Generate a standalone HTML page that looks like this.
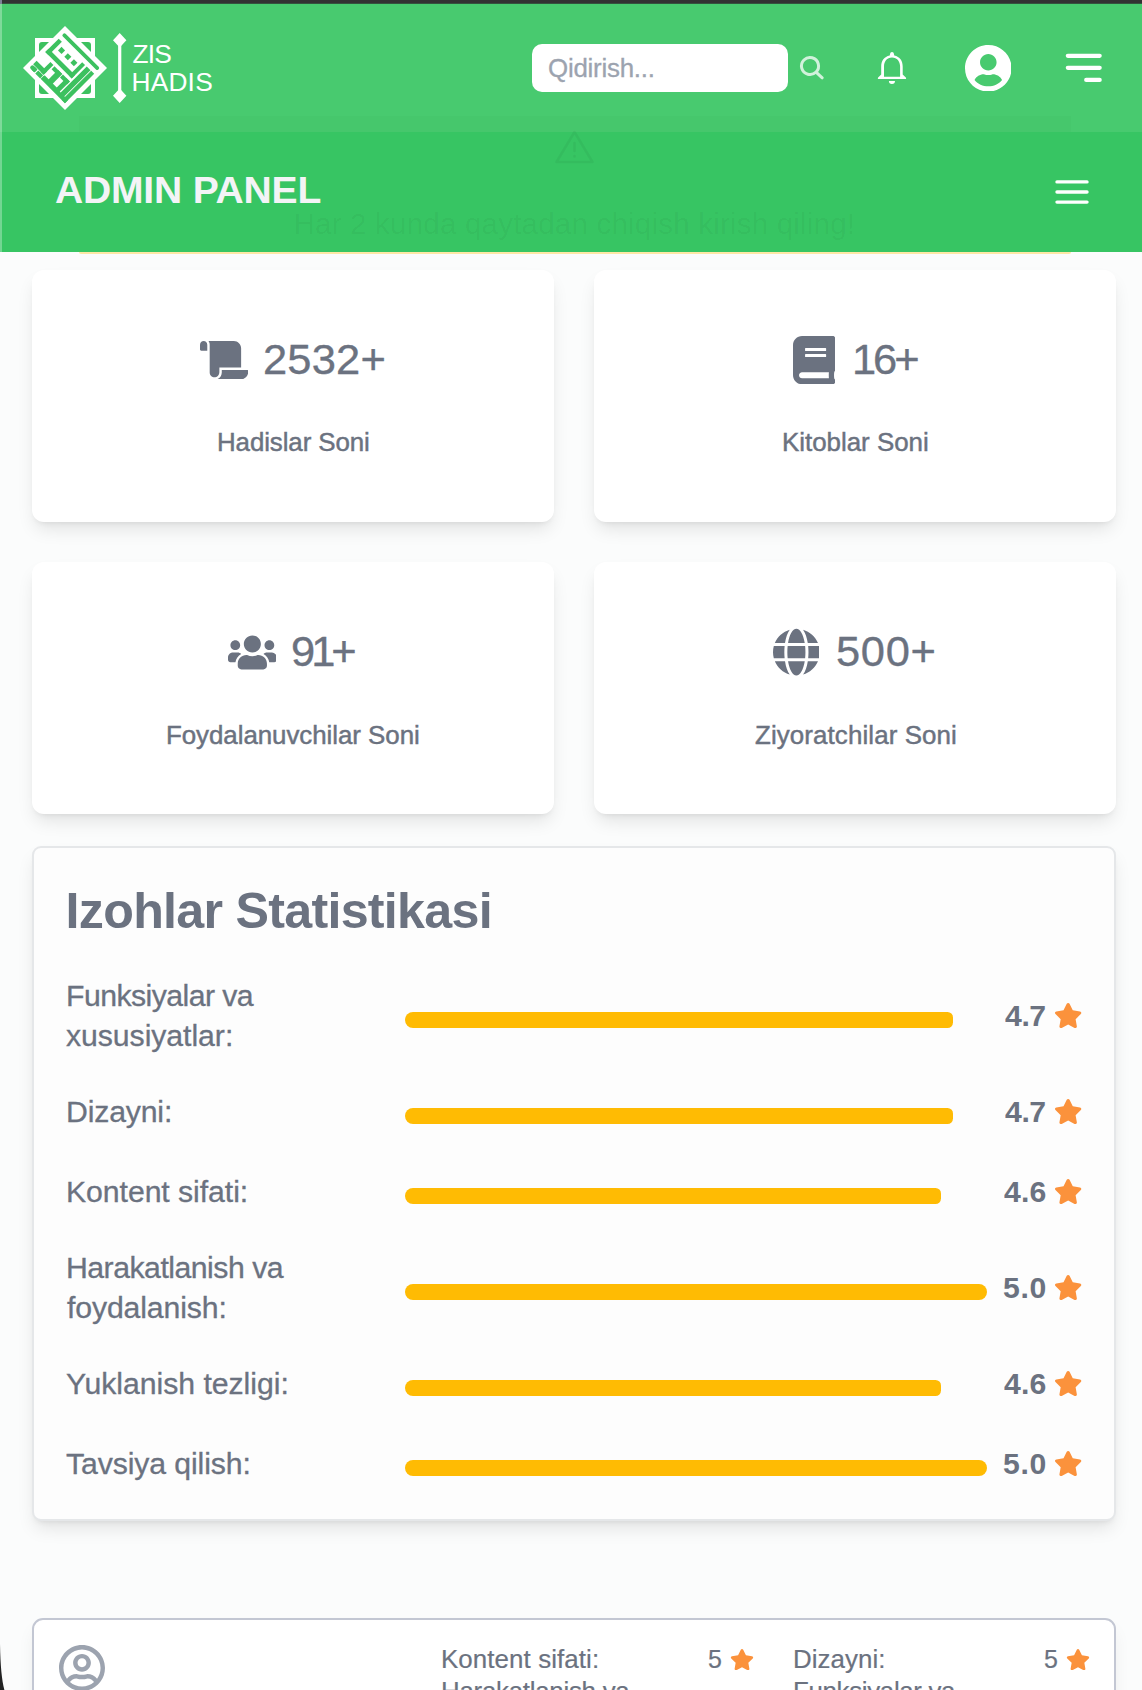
<!DOCTYPE html>
<html lang="uz">
<head>
<meta charset="utf-8">
<title>ZIS HADIS - Admin Panel</title>
<style>
*{box-sizing:border-box;margin:0;padding:0}
html,body{width:1142px;height:1690px;overflow:hidden;background:#fbfcfc}
body{position:relative;font-family:"Liberation Sans",sans-serif;color:#6b7280}
.abs{position:absolute}
.t{position:absolute;white-space:nowrap;line-height:1;transform-origin:0 50%;color:#6b7280}
/* top chrome */
#topbar{left:0;top:0;width:1142px;height:4px;background:linear-gradient(#323232 0,#323232 3px,rgba(46,42,46,.75) 3px,rgba(46,42,46,.75) 4px)}
#header{left:0;top:3px;width:1142px;height:129px;background:#48ca6f}
#leftstrip{left:0;top:4px;width:2px;height:248px;background:rgba(255,255,255,.3)}
#admin{left:0;top:132px;width:1142px;height:120px;background:#37c563}
#alertline{left:79px;top:252px;width:992px;height:2px;background:#fde7a6;border-radius:0 0 3px 3px}
.search{left:532px;top:44px;width:256px;height:48px;background:#fff;border-radius:10px}
.card{position:absolute;background:#fff;border-radius:12px;width:522px;height:252px;box-shadow:0 10px 18px -3px rgba(0,0,0,.1),0 4px 6px -4px rgba(0,0,0,.1)}
.num{font-size:41px;color:#6b7280}
.lab{font-size:23.5px;color:#6b7280;-webkit-text-stroke:.35px #6b7280}
#stats{left:32px;top:846px;width:1083.5px;height:675px;background:#fdfdfd;border:2px solid #e5e7e9;border-radius:9px;box-shadow:0 10px 18px -3px rgba(0,0,0,.1),0 4px 6px -4px rgba(0,0,0,.1)}
.row{font-size:26px;color:#6b7280}
.bar{position:absolute;left:405px;height:16px;border-radius:8px 5.5px 5.5px 8px;background:#ffbb03}
.score{font-size:28px;font-weight:700;color:#6b7280}
.star{position:absolute;fill:#fb923c}
#review{left:32px;top:1618px;width:1084px;height:120px;background:#fff;border:2px solid #c3c7d3;border-radius:11px;box-shadow:0 10px 18px -3px rgba(0,0,0,.08)}
.rv{font-size:24px;color:#6b7280}
</style>
</head>
<body>
<div class="abs" id="header"></div>
<div class="abs" id="admin"></div>
<div class="abs" style="left:79px;top:116px;width:992px;height:16px;background:rgba(0,60,0,.018)"></div>
<div class="abs" id="topbar"></div>
<div class="abs" id="leftstrip"></div>
<div class="abs" style="left:0;top:0;width:2px;height:4px;background:#7d8196"></div>
<div class="abs" id="alertline"></div>

<!-- HEADER CONTENT -->
<svg class="abs" style="left:21.8px;top:24.5px" width="86" height="86" viewBox="-43 -43 86 86">
  <rect x="-30" y="-30" width="60" height="60" fill="#fff"/>
  <rect x="-26" y="-26" width="52" height="52" rx="3" fill="#3cc15f"/>
  <g transform="rotate(45)">
    <rect x="-29.7" y="-29.7" width="59.4" height="59.4" fill="#fff"/>
    <g fill="#3cc15f">
      <rect x="-25.4" y="-24.6" width="50" height="3.8" rx="1.6"/>
      <rect x="-25.2" y="-16.3" width="4.5" height="18.9"/>
      <rect x="-25.2" y="-2.1" width="37.3" height="4.7"/>
      <rect x="8" y="-16.3" width="4.1" height="18.9"/>
      <rect x="-17.4" y="-12.5" width="5" height="5"/>
      <rect x="-8.5" y="-12.5" width="5" height="5"/>
      <rect x="0.1" y="-12.5" width="5" height="5"/>
      <!-- bottom stroke pieces -->
      <rect x="-25.4" y="20.5" width="7" height="4.4" rx="1.8"/>
      <rect x="-22" y="20.5" width="3.6" height="4.4"/>
      <rect x="-17.2" y="20.6" width="7" height="4.3"/>
      <rect x="-9.6" y="20.4" width="34.4" height="4.5"/>
      <!-- V -->
      <rect x="-25.2" y="14.9" width="14.9" height="5"/>
      <rect x="-14.6" y="6" width="4.3" height="13.9"/>
      <!-- h shapes -->
      <rect x="-8.6" y="6.2" width="10.4" height="4.2"/>
      <rect x="-3.6" y="6.2" width="6" height="15"/>
      <rect x="3.2" y="6.1" width="9.8" height="4.2"/>
      <rect x="8" y="6.1" width="5" height="15"/>
      <rect x="-9.2" y="19.6" width="22" height="2"/>
      <!-- right strokes -->
      <rect x="14.3" y="-16.5" width="5.3" height="38"/>
      <rect x="20.5" y="-16.5" width="4.3" height="41.4"/>
    </g>
  </g>
</svg>
<svg class="abs" style="left:111px;top:31px" width="18" height="74" viewBox="0 0 18 74">
  <rect x="7.1" y="8" width="3.2" height="58" fill="#fff"/>
  <path d="M8.7 2 L15.4 9.2 L8.7 16.4 L2 9.2Z M8.7 57.6 L15.4 64.8 L8.7 72 L2 64.8Z" fill="#fff"/>
</svg>
<div class="t" id="zis" style="left:132.5px;top:40.9px;font-size:26.3px;letter-spacing:-0.80px;color:#fff">ZIS</div>
<div class="t" id="hadis" style="left:131.5px;top:68.6px;font-size:26.3px;letter-spacing:0.20px;color:#fff">HADIS</div>
<div class="abs search"></div>
<div class="t" id="qid" style="left:548.1px;top:55.5px;font-size:25.0px;letter-spacing:-0.23px;transform:scaleX(1.035);color:#9ca3af;-webkit-text-stroke:.3px #9ca3af">Qidirish...</div>
<svg class="abs" style="left:797px;top:54px" width="30" height="30" viewBox="0 0 30 30" fill="none" stroke="#fff" stroke-opacity=".75" stroke-width="3" stroke-linecap="round">
  <path d="M19.05 18.05A8.55 8.55 0 1 0 19.04 18.06L25.2 23.8"/>
</svg>
<svg class="abs" style="left:870px;top:45px" width="45" height="45" viewBox="870 45 45 45">
  <path fill="#fff" fill-rule="evenodd" d="M890.2 53.5Q890.2 51.9 892 51.9Q893.8 51.9 893.8 53.5L894.3 55.6C899.8 56.8 902.7 61 902.7 66.5L902.7 74.5L906.05 77.8L906.05 79.1L877.9 79.1L877.9 77.8L881.2 74.5L881.2 66.5C881.2 61 884.2 56.8 889.7 55.6ZM884 76.7L884 66.5C884 61.4 887 57.5 892 57.5C897 57.5 900.1 61.4 900.1 66.5L900.1 76.7ZM888.9 81.05L895 81.05A3.05 3.05 0 0 1 888.9 81.05Z"/>
</svg>
<svg class="abs" style="left:964.7px;top:44.5px" width="46.6" height="46.6" viewBox="0 8 496 496">
  <circle cx="248" cy="256" r="236" fill="#48ca6f"/>
  <path fill="#fff" d="M248 8C111 8 0 119 0 256s111 248 248 248 248-111 248-248S385 8 248 8zm0 96c48.6 0 88 39.4 88 88s-39.4 88-88 88-88-39.4-88-88 39.4-88 88-88zm0 344c-58.7 0-111.3-26.6-146.5-68.2 18.8-35.4 55.6-59.8 98.5-59.8 2.4 0 4.8.4 7.1 1.1 13 4.2 26.6 6.9 40.9 6.9 14.3 0 28-2.7 40.9-6.9 2.3-.7 4.7-1.1 7.1-1.1 42.9 0 79.7 24.4 98.5 59.8C359.3 421.4 306.7 448 248 448z"/>
</svg>
<svg class="abs" style="left:1062px;top:50px" width="44" height="36" viewBox="0 0 44 36" stroke="#fff" stroke-width="4.2" stroke-linecap="round">
  <path d="M5.8 5.8H37.7M5.8 17.8H37.7M24.2 29.9H37.7"/>
</svg>

<!-- ADMIN BAR CONTENT -->
<svg class="abs" style="left:554px;top:129px" width="41" height="36" viewBox="0 0 41 36" fill="none" stroke="rgba(0,0,0,.045)" stroke-width="2.6" stroke-linejoin="round" stroke-linecap="round">
  <path d="M20.5 3 L38.5 33 L2.5 33Z"/><path d="M20.5 14V22M20.5 27V27.5"/>
</svg>
<div class="t" id="har" style="left:293.5px;top:208.7px;font-size:29.6px;letter-spacing:0.17px;color:rgba(0,0,0,.045)">Har 2 kunda qaytadan chiqish kirish qiling!</div>
<div class="t" id="adm" style="left:55.4px;top:171.6px;font-size:37.6px;font-weight:700;letter-spacing:-0.21px;transform:scaleX(1.04);color:#f3f4f6">ADMIN PANEL</div>
<svg class="abs" style="left:1052px;top:176px" width="40" height="32" viewBox="0 0 40 32" stroke="#fff" stroke-width="3.4" stroke-linecap="round">
  <path d="M5 5.9H35M5 16H35M5 26.1H35"/>
</svg>

<!-- CARDS -->
<div class="card" style="left:32px;top:270px"></div>
<div class="card" style="left:594px;top:270px"></div>
<div class="card" style="left:32px;top:562px"></div>
<div class="card" style="left:594px;top:562px"></div>

<svg class="abs" style="left:199.5px;top:340.6px" width="48.4" height="38.7" viewBox="0 0 640 512"><path fill="#6b7280" d="M48 0C21.53 0 0 21.53 0 48v64c0 8.84 7.16 16 16 16h80V48C96 21.53 74.47 0 48 0zm208 412.57V352h288V96c0-52.94-43.06-96-96-96H111.59C121.74 13.41 128 29.92 128 48v368c0 38.87 34.65 69.65 74.75 63.12C234.22 474 256 444.46 256 412.57zM288 384v32c0 52.93-43.06 96-96 96h336c61.86 0 112-50.14 112-112 0-8.84-7.16-16-16-16H288z"/></svg>
<div class="t" id="n1" style="left:263.0px;top:338.7px;font-size:41.8px;letter-spacing:0.19px;transform:scaleX(1.04);-webkit-text-stroke:.35px #6b7280">2532+</div>
<div class="t" id="l1" style="left:216.5px;top:430.4px;font-size:25.0px;letter-spacing:-0.09px;transform:scaleX(1.035);-webkit-text-stroke:.45px #6b7280">Hadislar Soni</div>

<svg class="abs" style="left:792.9px;top:335.8px" width="42.2" height="48.2" viewBox="0 0 448 512"><path fill="#6b7280" d="M448 360V24c0-13.3-10.7-24-24-24H96C43 0 0 43 0 96v320c0 53 43 96 96 96h328c13.3 0 24-10.7 24-24v-16c0-7.5-3.5-14.3-8.9-18.7-4.2-15.4-4.2-59.3 0-74.7 5.4-4.3 8.9-11.1 8.9-18.6zM128 134c0-3.3 2.7-6 6-6h212c3.3 0 6 2.7 6 6v20c0 3.3-2.7 6-6 6H134c-3.3 0-6-2.7-6-6v-20zm0 64c0-3.3 2.7-6 6-6h212c3.3 0 6 2.7 6 6v20c0 3.3-2.7 6-6 6H134c-3.3 0-6-2.7-6-6v-20zm253.4 250H96c-17.7 0-32-14.3-32-32 0-17.6 14.4-32 32-32h285.4c-1.9 17.1-1.9 46.9 0 64z"/></svg>
<div class="t" id="n2" style="left:851.5px;top:338.7px;font-size:41.8px;letter-spacing:-2.95px;transform:scaleX(1.04);-webkit-text-stroke:.35px #6b7280">16+</div>
<div class="t" id="l2" style="left:781.5px;top:430.4px;font-size:25.0px;transform:scaleX(1.035);-webkit-text-stroke:.45px #6b7280">Kitoblar Soni</div>

<svg class="abs" style="left:227.5px;top:632.5px" width="48.7" height="38.96" viewBox="0 0 640 512"><path fill="#6b7280" d="M96 224c35.3 0 64-28.7 64-64s-28.7-64-64-64-64 28.7-64 64 28.7 64 64 64zm448 0c35.3 0 64-28.7 64-64s-28.7-64-64-64-64 28.7-64 64 28.7 64 64 64zm32 32h-64c-17.6 0-33.5 7.1-45.1 18.6 40.3 22.1 68.9 62 75.1 109.4h66c17.7 0 32-14.3 32-32v-32c0-35.3-28.7-64-64-64zm-256 0c61.9 0 112-50.1 112-112S381.9 32 320 32 208 82.1 208 144s50.1 112 112 112zm76.8 32h-8.3c-20.8 10-43.9 16-68.5 16s-47.6-6-68.5-16h-8.3C179.6 288 128 339.6 128 403.2V432c0 26.5 21.5 48 48 48h288c26.5 0 48-21.5 48-48v-28.8c0-63.6-51.6-115.2-115.2-115.2zm-223.7-13.4C161.5 263.1 145.6 256 128 256H64c-35.3 0-64 28.7-64 64v32c0 17.7 14.3 32 32 32h65.9c6.3-47.4 34.9-87.3 75.2-109.4z"/></svg>
<div class="t" id="n3" style="left:291.4px;top:630.7px;font-size:41.8px;letter-spacing:-3.84px;transform:scaleX(1.04);-webkit-text-stroke:.35px #6b7280">91+</div>
<div class="t" id="l3" style="left:166.2px;top:722.5px;font-size:25.0px;letter-spacing:-0.04px;transform:scaleX(1.035);-webkit-text-stroke:.45px #6b7280">Foydalanuvchilar Soni</div>

<svg class="abs" style="left:772.6px;top:627.7px" width="46.8" height="48.3" viewBox="0 0 496 512"><path fill="#6b7280" d="M336.5 160C322 70.7 287.8 8 248 8s-74 62.7-88.5 152h177zM152 256c0 22.2 1.2 43.5 3.3 64h185.3c2.1-20.5 3.3-41.8 3.3-64s-1.2-43.5-3.3-64H155.3c-2.1 20.5-3.3 41.8-3.3 64zm324.7-96c-28.6-67.9-86.5-120.4-158-141.6 24.4 33.8 41.2 84.7 50 141.6h108zM177.2 18.4C105.8 39.6 47.8 92.1 19.3 160h108c8.7-56.9 25.5-107.8 49.9-141.6zM487.4 192H372.7c2.1 21 3.3 42.5 3.3 64s-1.2 43-3.3 64h114.6c5.5-20.5 8.6-41.8 8.6-64s-3.1-43.5-8.5-64zM120 256c0-21.5 1.2-43 3.3-64H8.6C3.2 212.5 0 233.8 0 256s3.2 43.5 8.6 64h114.6c-2-21-3.2-42.5-3.2-64zm39.5 96c14.5 89.3 48.7 152 88.5 152s74-62.7 88.5-152h-177zm159.3 141.6c71.4-21.2 129.4-73.7 158-141.6h-108c-8.8 56.9-25.6 107.8-50 141.6zM19.3 352c28.6 67.9 86.5 120.4 158 141.6-24.4-33.8-41.2-84.7-50-141.6h-108z"/></svg>
<div class="t" id="n4" style="left:835.6px;top:630.7px;font-size:41.8px;letter-spacing:0.67px;transform:scaleX(1.04);-webkit-text-stroke:.35px #6b7280">500+</div>
<div class="t" id="l4" style="left:754.8px;top:722.5px;font-size:25.0px;letter-spacing:0.11px;transform:scaleX(1.035);-webkit-text-stroke:.45px #6b7280">Ziyoratchilar Soni</div>

<!-- STATS -->
<div class="abs" id="stats"></div>
<div class="t" id="ttl" style="left:65.6px;top:885.6px;font-size:50.2px;font-weight:700;letter-spacing:-0.72px;">Izohlar Statistikasi</div>
<div class="t" id="r0a" style="left:65.9px;top:981.5px;font-size:29.2px;letter-spacing:-0.53px;transform:scaleX(1.035);-webkit-text-stroke:.3px #6b7280">Funksiyalar va</div>
<div class="t" id="r0b" style="left:65.9px;top:1021.5px;font-size:29.2px;letter-spacing:-0.05px;transform:scaleX(1.035);-webkit-text-stroke:.3px #6b7280">xususiyatlar:</div>
<div class="bar" style="top:1012px;width:548px"></div>
<div class="t" id="s0" style="left:1004.7px;top:1001.0px;font-size:29.3px;font-weight:700;letter-spacing:-0.39px;transform:scaleX(1.03);">4.7</div>
<svg class="star" style="left:1053.8px;top:1003.4px" width="28.3" height="25.1" viewBox="0 0 576 512" preserveAspectRatio="none"><path d="M259.3 17.8L194 150.2 47.9 171.5c-26.2 3.8-36.7 36.1-17.7 54.6l105.7 103-25 145.5c-4.5 26.3 23.2 46 46.4 33.7L288 439.6l130.7 68.7c23.2 12.2 50.9-7.4 46.4-33.7l-25-145.5 105.7-103c19-18.5 8.5-50.8-17.7-54.6L382 150.2 316.7 17.8c-11.7-23.6-45.6-23.9-57.4 0z"/></svg>
<div class="t" id="r1a" style="left:65.9px;top:1097.5px;font-size:29.2px;letter-spacing:-0.16px;transform:scaleX(1.035);-webkit-text-stroke:.3px #6b7280">Dizayni:</div>
<div class="bar" style="top:1108px;width:548px"></div>
<div class="t" id="s1" style="left:1004.7px;top:1097.0px;font-size:29.3px;font-weight:700;letter-spacing:-0.39px;transform:scaleX(1.03);">4.7</div>
<svg class="star" style="left:1053.8px;top:1099.4px" width="28.3" height="25.1" viewBox="0 0 576 512" preserveAspectRatio="none"><path d="M259.3 17.8L194 150.2 47.9 171.5c-26.2 3.8-36.7 36.1-17.7 54.6l105.7 103-25 145.5c-4.5 26.3 23.2 46 46.4 33.7L288 439.6l130.7 68.7c23.2 12.2 50.9-7.4 46.4-33.7l-25-145.5 105.7-103c19-18.5 8.5-50.8-17.7-54.6L382 150.2 316.7 17.8c-11.7-23.6-45.6-23.9-57.4 0z"/></svg>
<div class="t" id="r2a" style="left:65.9px;top:1177.5px;font-size:29.2px;letter-spacing:-0.06px;transform:scaleX(1.035);-webkit-text-stroke:.3px #6b7280">Kontent sifati:</div>
<div class="bar" style="top:1188px;width:535.5px"></div>
<div class="t" id="s2" style="left:1003.6px;top:1177.0px;font-size:29.3px;font-weight:700;letter-spacing:0.15px;transform:scaleX(1.03);">4.6</div>
<svg class="star" style="left:1053.8px;top:1179.4px" width="28.3" height="25.1" viewBox="0 0 576 512" preserveAspectRatio="none"><path d="M259.3 17.8L194 150.2 47.9 171.5c-26.2 3.8-36.7 36.1-17.7 54.6l105.7 103-25 145.5c-4.5 26.3 23.2 46 46.4 33.7L288 439.6l130.7 68.7c23.2 12.2 50.9-7.4 46.4-33.7l-25-145.5 105.7-103c19-18.5 8.5-50.8-17.7-54.6L382 150.2 316.7 17.8c-11.7-23.6-45.6-23.9-57.4 0z"/></svg>
<div class="t" id="r3a" style="left:65.9px;top:1253.5px;font-size:29.2px;letter-spacing:-0.48px;transform:scaleX(1.035);-webkit-text-stroke:.3px #6b7280">Harakatlanish va</div>
<div class="t" id="r3b" style="left:66.6px;top:1293.5px;font-size:29.2px;letter-spacing:-0.12px;transform:scaleX(1.035);-webkit-text-stroke:.3px #6b7280">foydalanish:</div>
<div class="bar" style="top:1284px;width:582px;border-radius:8px"></div>
<div class="t" id="s3" style="left:1002.6px;top:1273.0px;font-size:29.3px;font-weight:700;letter-spacing:0.65px;transform:scaleX(1.03);">5.0</div>
<svg class="star" style="left:1053.8px;top:1275.4px" width="28.3" height="25.1" viewBox="0 0 576 512" preserveAspectRatio="none"><path d="M259.3 17.8L194 150.2 47.9 171.5c-26.2 3.8-36.7 36.1-17.7 54.6l105.7 103-25 145.5c-4.5 26.3 23.2 46 46.4 33.7L288 439.6l130.7 68.7c23.2 12.2 50.9-7.4 46.4-33.7l-25-145.5 105.7-103c19-18.5 8.5-50.8-17.7-54.6L382 150.2 316.7 17.8c-11.7-23.6-45.6-23.9-57.4 0z"/></svg>
<div class="t" id="r4a" style="left:65.5px;top:1369.5px;font-size:29.2px;letter-spacing:-0.03px;transform:scaleX(1.035);-webkit-text-stroke:.3px #6b7280">Yuklanish tezligi:</div>
<div class="bar" style="top:1380px;width:535.5px"></div>
<div class="t" id="s4" style="left:1003.6px;top:1369.0px;font-size:29.3px;font-weight:700;letter-spacing:0.15px;transform:scaleX(1.03);">4.6</div>
<svg class="star" style="left:1053.8px;top:1371.4px" width="28.3" height="25.1" viewBox="0 0 576 512" preserveAspectRatio="none"><path d="M259.3 17.8L194 150.2 47.9 171.5c-26.2 3.8-36.7 36.1-17.7 54.6l105.7 103-25 145.5c-4.5 26.3 23.2 46 46.4 33.7L288 439.6l130.7 68.7c23.2 12.2 50.9-7.4 46.4-33.7l-25-145.5 105.7-103c19-18.5 8.5-50.8-17.7-54.6L382 150.2 316.7 17.8c-11.7-23.6-45.6-23.9-57.4 0z"/></svg>
<div class="t" id="r5a" style="left:65.9px;top:1449.5px;font-size:29.2px;letter-spacing:-0.10px;transform:scaleX(1.035);-webkit-text-stroke:.3px #6b7280">Tavsiya qilish:</div>
<div class="bar" style="top:1460px;width:582px;border-radius:8px"></div>
<div class="t" id="s5" style="left:1002.6px;top:1449.0px;font-size:29.3px;font-weight:700;letter-spacing:0.65px;transform:scaleX(1.03);">5.0</div>
<svg class="star" style="left:1053.8px;top:1451.4px" width="28.3" height="25.1" viewBox="0 0 576 512" preserveAspectRatio="none"><path d="M259.3 17.8L194 150.2 47.9 171.5c-26.2 3.8-36.7 36.1-17.7 54.6l105.7 103-25 145.5c-4.5 26.3 23.2 46 46.4 33.7L288 439.6l130.7 68.7c23.2 12.2 50.9-7.4 46.4-33.7l-25-145.5 105.7-103c19-18.5 8.5-50.8-17.7-54.6L382 150.2 316.7 17.8c-11.7-23.6-45.6-23.9-57.4 0z"/></svg>

<!-- REVIEW -->
<div class="abs" id="review"></div>
<svg class="abs" style="left:59.2px;top:1645px" width="46" height="46" viewBox="0 8 496 496"><path fill="#9ca3af" d="M248 104c-53 0-96 43-96 96s43 96 96 96 96-43 96-96-43-96-96-96zm0 144c-26.5 0-48-21.5-48-48s21.5-48 48-48 48 21.5 48 48-21.5 48-48 48zm0-240C111 8 0 119 0 256s111 248 248 248 248-111 248-248S385 8 248 8zm0 448c-49.7 0-95.1-18.3-130.1-48.4 14.9-23 40.4-38.6 69.6-39.5 20.8 6.4 40.6 9.6 60.5 9.6s39.7-3.1 60.5-9.6c29.2 1 54.7 16.5 69.6 39.5-35 30.1-80.4 48.4-130.1 48.4zm162.7-84.1c-24.4-31.4-62.1-51.9-105.1-51.9-10.2 0-26 9.6-57.6 9.6-31.5 0-47.4-9.6-57.6-9.6-42.9 0-80.6 20.5-105.1 51.9C61.9 339.2 48 299.2 48 256c0-110.3 89.7-200 200-200s200 89.7 200 200c0 43.2-13.9 83.2-37.3 115.9z"/></svg>
<div class="t" id="v1" style="left:440.5px;top:1646.6px;font-size:25.0px;letter-spacing:0.09px;transform:scaleX(1.035);-webkit-text-stroke:.2px #6b7280">Kontent sifati:</div>
<div class="t" id="v1n" style="left:708.0px;top:1646.6px;font-size:25.0px;-webkit-text-stroke:.2px #6b7280">5</div>
<svg class="star" style="left:730.2px;top:1649px" width="24" height="21.3" viewBox="0 0 576 512" preserveAspectRatio="none"><path d="M259.3 17.8L194 150.2 47.9 171.5c-26.2 3.8-36.7 36.1-17.7 54.6l105.7 103-25 145.5c-4.5 26.3 23.2 46 46.4 33.7L288 439.6l130.7 68.7c23.2 12.2 50.9-7.4 46.4-33.7l-25-145.5 105.7-103c19-18.5 8.5-50.8-17.7-54.6L382 150.2 316.7 17.8c-11.7-23.6-45.6-23.9-57.4 0z"/></svg>
<div class="t" id="v2" style="left:440.5px;top:1678.6px;font-size:25.0px;letter-spacing:-0.26px;transform:scaleX(1.035);-webkit-text-stroke:.2px #6b7280">Harakatlanish va</div>
<div class="t" id="v3" style="left:792.5px;top:1646.6px;font-size:25.0px;letter-spacing:0.06px;transform:scaleX(1.035);-webkit-text-stroke:.2px #6b7280">Dizayni:</div>
<div class="t" id="v3n" style="left:1044.0px;top:1646.6px;font-size:25.0px;-webkit-text-stroke:.2px #6b7280">5</div>
<svg class="star" style="left:1066.1px;top:1649px" width="24" height="21.3" viewBox="0 0 576 512" preserveAspectRatio="none"><path d="M259.3 17.8L194 150.2 47.9 171.5c-26.2 3.8-36.7 36.1-17.7 54.6l105.7 103-25 145.5c-4.5 26.3 23.2 46 46.4 33.7L288 439.6l130.7 68.7c23.2 12.2 50.9-7.4 46.4-33.7l-25-145.5 105.7-103c19-18.5 8.5-50.8-17.7-54.6L382 150.2 316.7 17.8c-11.7-23.6-45.6-23.9-57.4 0z"/></svg>
<div class="t" id="v4" style="left:792.9px;top:1678.6px;font-size:25.0px;letter-spacing:-0.32px;transform:scaleX(1.035);-webkit-text-stroke:.2px #6b7280">Funksiyalar va</div>
<svg class="abs" style="left:0;top:1636px" width="8" height="54" viewBox="0 0 8 54"><path d="M0 8C.4 30 1.8 44 4.4 54L0 54Z" fill="#222"/></svg>

</body>
</html>
